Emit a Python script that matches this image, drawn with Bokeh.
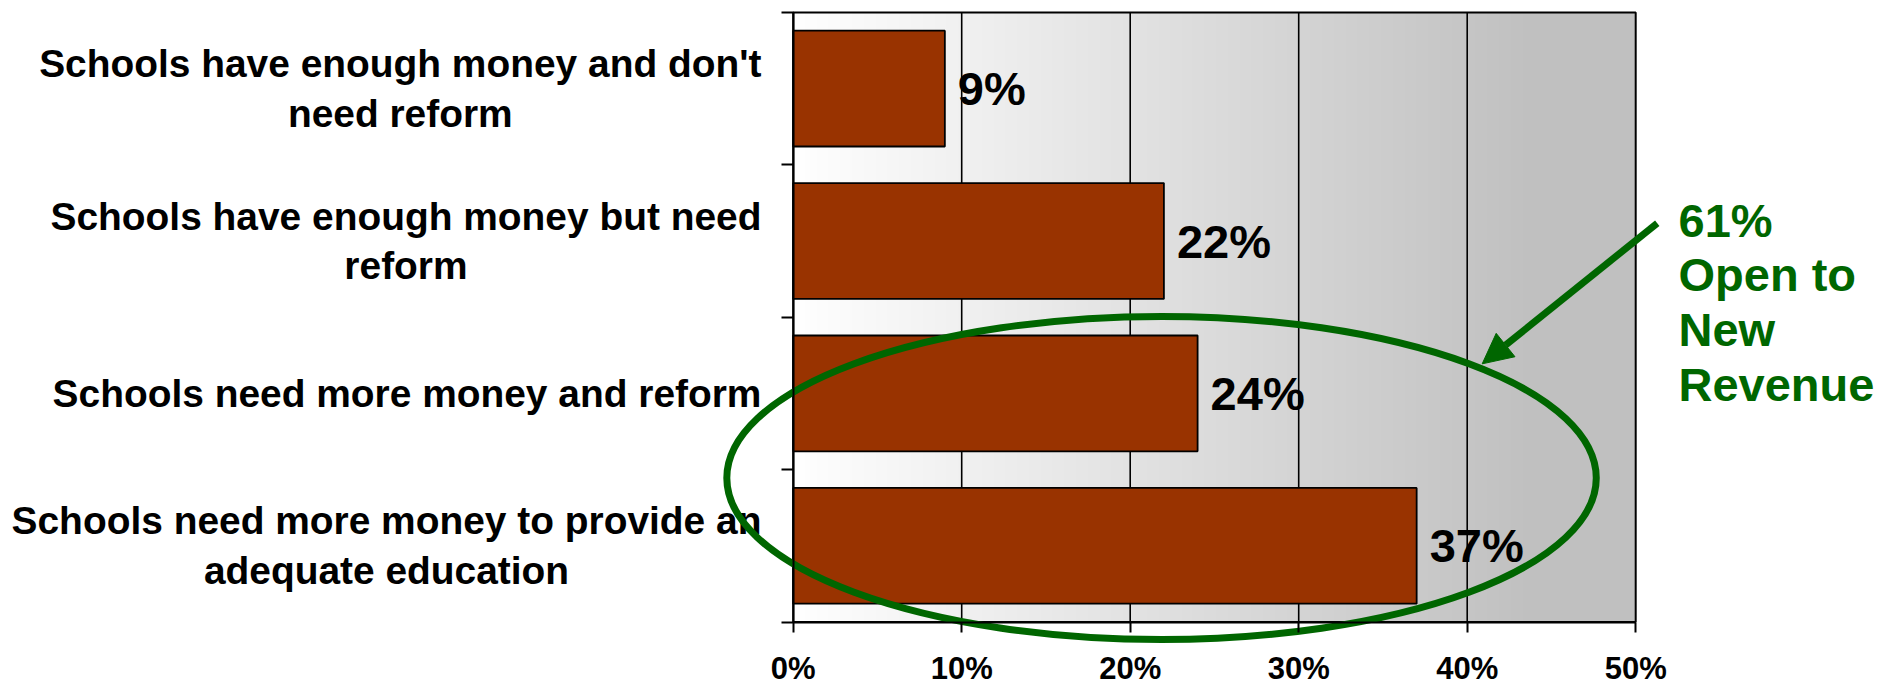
import glob
import numpy as np
from bokeh.plotting import figure
from bokeh.models import Range1d, LinearAxis, FixedTicker, ColumnDataSource, Arrow, NormalHead
from bokeh.core.properties import value
from bokeh.embed import file_html
from bokeh.resources import INLINE

# ---------------- data ----------------
categories = [
    "Schools have enough money and don't\nneed reform",
    "Schools have enough money but need\nreform",
    "Schools need more money and reform",
    "Schools need more money to provide an\nadequate education",
]
values = [9, 22, 24, 37]
value_labels = ["9%", "22%", "24%", "37%"]
tick_values = [0, 10, 20, 30, 40, 50]
tick_labels = ["0%", "10%", "20%", "30%", "40%", "50%"]
annotation_text = "61%\nOpen to\nNew\nRevenue"

# ---------------- layout ----------------
W, H = 1884, 686
PX0, PXU = 792.7, 16.85      # canvas px of x=0, px per percent
PY0, PYU = 621.5, 152.4      # canvas py of y=0 (from top), px per category band
n = len(categories)
ys = [n - i - 0.5 for i in range(n)]

FONT_NAME = "Liberation Sans"
FONT = value(FONT_NAME)
CAT_SIZE = 38.9
GREEN = "#006600"

# text width measurement for centring wrapped category labels
_fallback = {' ': 278, "'": 238, 'S': 667, 'a': 556, 'b': 611, 'c': 556, 'd': 611, 'e': 556,
             'f': 333, 'g': 611, 'h': 611, 'i': 278, 'l': 278, 'm': 889, 'n': 611, 'o': 611,
             'p': 611, 'q': 611, 'r': 389, 's': 556, 't': 333, 'u': 611, 'v': 556, 'y': 556}
_font = None
try:
    from PIL import ImageFont
    paths = glob.glob("/usr/share/fonts/**/LiberationSans-Bold.ttf", recursive=True)
    if paths:
        _font = ImageFont.truetype(paths[0], 100)
except Exception:
    _font = None

def text_width(s, size):
    if _font is not None:
        return _font.getlength(s) * size / 100.0
    return sum(_fallback.get(c, 556) for c in s) * size / 1000.0

LABEL_GAP = 31.7
cat_offsets = [-(LABEL_GAP + max(text_width(line, CAT_SIZE) for line in c.split("\n")) / 2)
               for c in categories]

p = figure(width=W, height=H,
           x_range=Range1d(-PX0 / PXU, (W - PX0) / PXU),
           y_range=Range1d(-(H - PY0) / PYU, PY0 / PYU),
           output_backend="svg", toolbar_location=None,
           x_axis_type=None, y_axis_type=None, min_border=0)
p.outline_line_color = None
p.background_fill_color = "white"
p.border_fill_color = "white"

# gradient plot-area background
N = 500
gx = np.linspace(0, tick_values[-1], N)
g = (255 - 63 * np.clip(gx / 44.0, 0, 1)).astype(np.uint8)
img = np.empty((1, N), dtype=np.uint32)
view = img.view(dtype=np.uint8).reshape((1, N, 4))
view[..., 0] = g
view[..., 1] = g
view[..., 2] = g
view[..., 3] = 255
p.image_rgba(image=[img], x=0, y=0, dw=tick_values[-1], dh=n)

# vertical gridlines
inner = tick_values[1:-1]
p.segment(x0=inner, y0=[0] * len(inner), x1=inner, y1=[n] * len(inner),
          line_color="black", line_width=1.6)
# plot-area border
p.quad(left=0, right=tick_values[-1], bottom=0, top=n,
       fill_color=None, line_color="black", line_width=2)

# bars
src = ColumnDataSource(dict(y=ys, v=values, lab=value_labels, cat=categories, off=cat_offsets))
p.hbar(y="y", left=0, right="v", height=0.76, source=src,
       fill_color="#993300", line_color="black", line_width=1.8)

# value labels
p.text(x="v", y="y", text="lab", source=src, x_offset=13,
       text_align="left", text_baseline="middle",
       text_font=FONT, text_font_style="bold", text_font_size="47px", text_color="black")

# category labels
p.text(x=0, y="y", text="cat", source=src, x_offset="off",
       text_align="center", text_baseline="middle", text_line_height=1.16,
       text_font=FONT, text_font_style="bold", text_font_size=f"{CAT_SIZE}px", text_color="black")

# axes
xaxis = LinearAxis(fixed_location=0, bounds=(0, tick_values[-1]),
                   ticker=FixedTicker(ticks=tick_values),
                   major_label_overrides={t: l for t, l in zip(tick_values, tick_labels)},
                   major_tick_out=10, major_tick_in=0, minor_tick_line_color=None,
                   axis_line_width=2, major_tick_line_width=2,
                   major_label_text_font=FONT_NAME, major_label_text_font_style="bold",
                   major_label_text_font_size="31px", major_label_text_color="black",
                   major_label_standoff=19)
p.add_layout(xaxis, "below")
y_ticks = list(range(n + 1))
yaxis = LinearAxis(fixed_location=0, bounds=(0, n),
                   ticker=FixedTicker(ticks=y_ticks),
                   major_label_overrides={t: "" for t in y_ticks},
                   major_tick_out=12, major_tick_in=0, minor_tick_line_color=None,
                   axis_line_width=2, major_tick_line_width=2)
p.add_layout(yaxis, "left")

# annotation: ellipse, arrow, text
p.ellipse(x=21.86, y=0.945, width=51.6, height=2.12,
          fill_color=None, line_color=GREEN, line_width=7)
p.add_layout(Arrow(x_start=51.28, y_start=2.617, x_end=40.89, y_end=1.694,
                   line_color=GREEN, line_width=7,
                   end=NormalHead(size=30, fill_color=GREEN, line_color=GREEN)))
p.text(x=[52.54], y=[2.098], text=[annotation_text],
       text_align="left", text_baseline="middle", text_line_height=1.03,
       text_font=FONT, text_font_style="bold", text_font_size="47px", text_color=GREEN)

open("out.html", "w").write(file_html(p, INLINE))
